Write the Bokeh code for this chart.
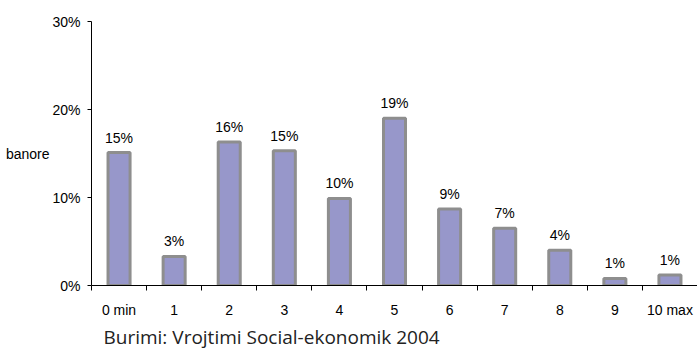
from bokeh.plotting import figure
from bokeh.models import Range1d, FixedTicker, ColumnDataSource, PrintfTickFormatter, Title
from bokeh.core.properties import value
from bokeh.embed import file_html
from bokeh.resources import INLINE

categories = ["0 min", "1", "2", "3", "4", "5", "6", "7", "8", "9", "10 max"]
shares = [15.1, 3.3, 16.3, 15.3, 9.9, 19.0, 8.7, 6.5, 4.0, 0.8, 1.2]
share_labels = ["15%", "3%", "16%", "15%", "10%", "19%", "9%", "7%", "4%", "1%", "1%"]
y_ticks = [0, 10, 20, 30]
y_label = "banore"
source_note = "Burimi: Vrojtimi Social-ekonomik 2004"

FONT = "Liberation Sans"
idx = list(range(len(categories)))

p = figure(width=697, height=350, output_backend="svg", toolbar_location=None,
           x_range=Range1d(-0.5, len(categories) - 0.5), y_range=Range1d(0, 30),
           min_border_left=91, min_border_right=0, min_border_top=21, min_border_bottom=0)
p.outline_line_color = None
p.xgrid.grid_line_color = None
p.ygrid.grid_line_color = None
p.background_fill_color = "white"
p.border_fill_color = "white"

src = ColumnDataSource(dict(x=idx, top=shares, lab=share_labels))
p.vbar(x="x", top="top", width=0.4, source=src, fill_color="#9797CA",
       line_color="#8E8E8E", line_width=3)
p.text(x="x", y="top", text="lab", source=src, text_align="center",
       text_baseline="alphabetic", y_offset=-15, text_font=value(FONT),
       text_font_size="14px", text_color="black")

# x axis
xa = p.xaxis[0]
xa.ticker = FixedTicker(ticks=idx, minor_ticks=[i - 0.5 for i in range(len(categories) + 1)])
xa.major_label_overrides = {i: c for i, c in enumerate(categories)}
xa.major_tick_line_color = None
xa.major_tick_out = 0
xa.major_tick_in = 0
xa.minor_tick_out = 5
xa.minor_tick_in = 0
xa.minor_tick_line_color = "black"
xa.axis_line_color = "black"
xa.major_label_standoff = 11
xa.major_label_text_font = FONT
xa.major_label_text_font_size = "14px"
xa.major_label_text_color = "black"

# y axis
ya = p.yaxis[0]
ya.ticker = FixedTicker(ticks=y_ticks)
ya.formatter = PrintfTickFormatter(format="%d%%")
ya.major_tick_out = 4
ya.major_tick_in = 0
ya.minor_tick_line_color = None
ya.axis_line_color = "black"
ya.major_tick_line_color = "black"
ya.major_label_standoff = 7
ya.major_label_text_font = FONT
ya.major_label_text_font_size = "14px"
ya.major_label_text_color = "black"
ya.axis_label = y_label
ya.axis_label_orientation = "horizontal"
ya.axis_label_standoff = 0
ya.axis_label_text_font = FONT
ya.axis_label_text_font_size = "14px"
ya.axis_label_text_font_style = "normal"
ya.axis_label_text_color = "black"

p.add_layout(Title(text=source_note, align="left", offset=12, standoff=2,
                   text_font="Open Sans", text_font_size="19px",
                   text_font_style="normal", text_color="#222222"), "below")

open("out.html", "w").write(file_html(p, INLINE))
